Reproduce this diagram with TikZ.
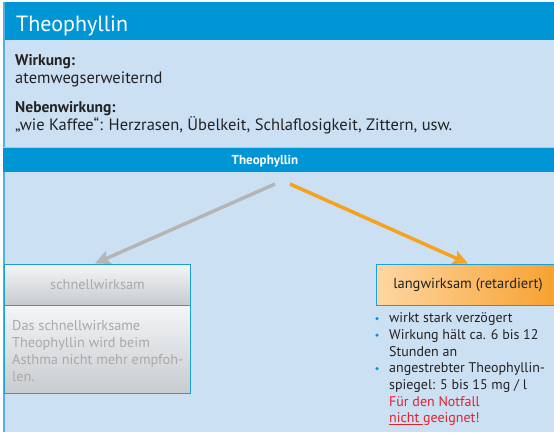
\documentclass[tikz,border=0pt]{standalone}
\usepackage{fontspec}
\setmainfont{PT Sans}
\usetikzlibrary{arrows.meta}
\definecolor{hblue}{HTML}{0096D6}
\definecolor{bgblue}{HTML}{CCE0F4}
\definecolor{lineblue}{HTML}{55B0E2}
\definecolor{bordblue}{HTML}{1AA0DA}
\definecolor{txtdark}{HTML}{222222}
\definecolor{txtgray}{HTML}{A9A9AB}
\definecolor{arrgray}{HTML}{B5B5B5}
\definecolor{arrorange}{HTML}{F7A11C}
\definecolor{orlight}{HTML}{FDD7A2}
\definecolor{ordark}{HTML}{F7A02E}
\definecolor{grtop}{HTML}{F3F5F7}
\definecolor{grbot}{HTML}{C9CCCF}
\definecolor{redtxt}{HTML}{E5202B}
\tikzset{
  txt/.style={anchor=base west, inner sep=0, text=txtdark, font=\fontsize{16.5}{19}\selectfont},
  btxt/.style={txt, font=\fontsize{15.5}{18}\selectfont\bfseries},
  graytxt/.style={anchor=base west, inner sep=0, text=txtgray, font=\fontsize{14.3}{17}\selectfont},
  listtxt/.style={anchor=base west, inner sep=0, text=txtdark, font=\fontsize{14}{17}\selectfont},
  redline/.style={listtxt, text=redtxt},
  dot/.style={circle, fill=hblue, inner sep=0, minimum size=3.5},
  graybox/.style={draw=bordblue, line width=1, top color=grtop, bottom color=grbot, inner sep=0, anchor=north west},
  orbox/.style={draw=bordblue, line width=1, left color=orlight, right color=ordark, inner sep=0, anchor=north west},
  grayarrow/.style={draw=arrgray, line width=3.5, -{Stealth[length=15, width=14, inset=3]}},
  orarrow/.style={draw=arrorange, line width=3.5, -{Stealth[length=15, width=14, inset=3]}}
}
\begin{document}
\begin{tikzpicture}[x=1pt,y=-1pt]
\clip (0,0) rectangle (554,432);
\fill[white] (0,0) rectangle (554,432);
\fill[bgblue] (3,2) rectangle (560,432);
\fill[hblue] (3,2) rectangle (560,40);
\draw[lineblue, line width=1.5] (3.75,2) -- (3.75,432);
\node[anchor=base west, inner sep=0, text=white, font=\fontsize{22}{26}\selectfont] (title) at (16,31) {Theophyllin};

\node[btxt] (wirk) at (15,65) {Wirkung:};
\node[txt] (wirkt) at (15,83) {atemwegserweiternd};
\node[btxt] (neben) at (15,112) {Nebenwirkung:};
\node[txt] (nebent) at (15,130) {„wie Kaffee“: Herzrasen, Übelkeit, Schlaflosigkeit, Zittern, usw.};

\draw[lineblue!60, line width=1] (3,147.5) -- (560,147.5);
\fill[hblue] (3,148) rectangle (560,172);
\node[anchor=base, inner sep=0, text=white, font=\fontsize{13}{16}\selectfont\bfseries] (bar) at (265,164.5) {Theophyllin};

\coordinate (gs) at (275,184);
\coordinate (os) at (290,184);

\node[graybox, minimum width=186, minimum height=41, text=txtgray, font=\fontsize{14.3}{17}\selectfont] (fast) at (4,263.5) {schnellwirksam};
\node[graybox, minimum width=186, minimum height=88, anchor=north west] (fastbody) at (4,304.5) {};
\node[graytxt] (f1) at (12,330) {Das schnellwirksame};
\node[graytxt] (f2) at (12,347) {Theophyllin wird beim};
\node[graytxt] (f3) at (12,364) {Asthma nicht mehr empfoh-};
\node[graytxt] (f4) at (12,381) {len.};

\node[orbox, minimum width=184, minimum height=41, text=txtdark, font=\fontsize{14.5}{17}\selectfont] (slow) at (375.5,263.5) {langwirksam (retardiert)};

\draw[grayarrow] (gs) -- (fast.north west -| 95,0) coordinate (ge);
\draw[orarrow] (os) -- (slow.north west -| 468,0) coordinate (oe);

\node[dot] (d1) at (377,318.5) {};
\node[listtxt] (l1) at (389,322.7) {wirkt stark verzögert};
\node[dot] (d2) at (377,335.2) {};
\node[listtxt] (l2) at (389,339.3) {Wirkung hält ca. 6 bis 12};
\node[listtxt] (l3) at (389,356) {Stunden an};
\node[dot] (d3) at (377,368.6) {};
\node[listtxt] (l4) at (389,372.7) {angestrebter Theophyllin-};
\node[listtxt] (l5) at (389,389.3) {spiegel: 5 bis 15 mg / l};
\node[redline] (l6) at (389,406) {Für den Notfall};
\node[redline] (l7) at (389,422.7) {\underline{nicht\ }geeignet!};
\end{tikzpicture}
\end{document}
